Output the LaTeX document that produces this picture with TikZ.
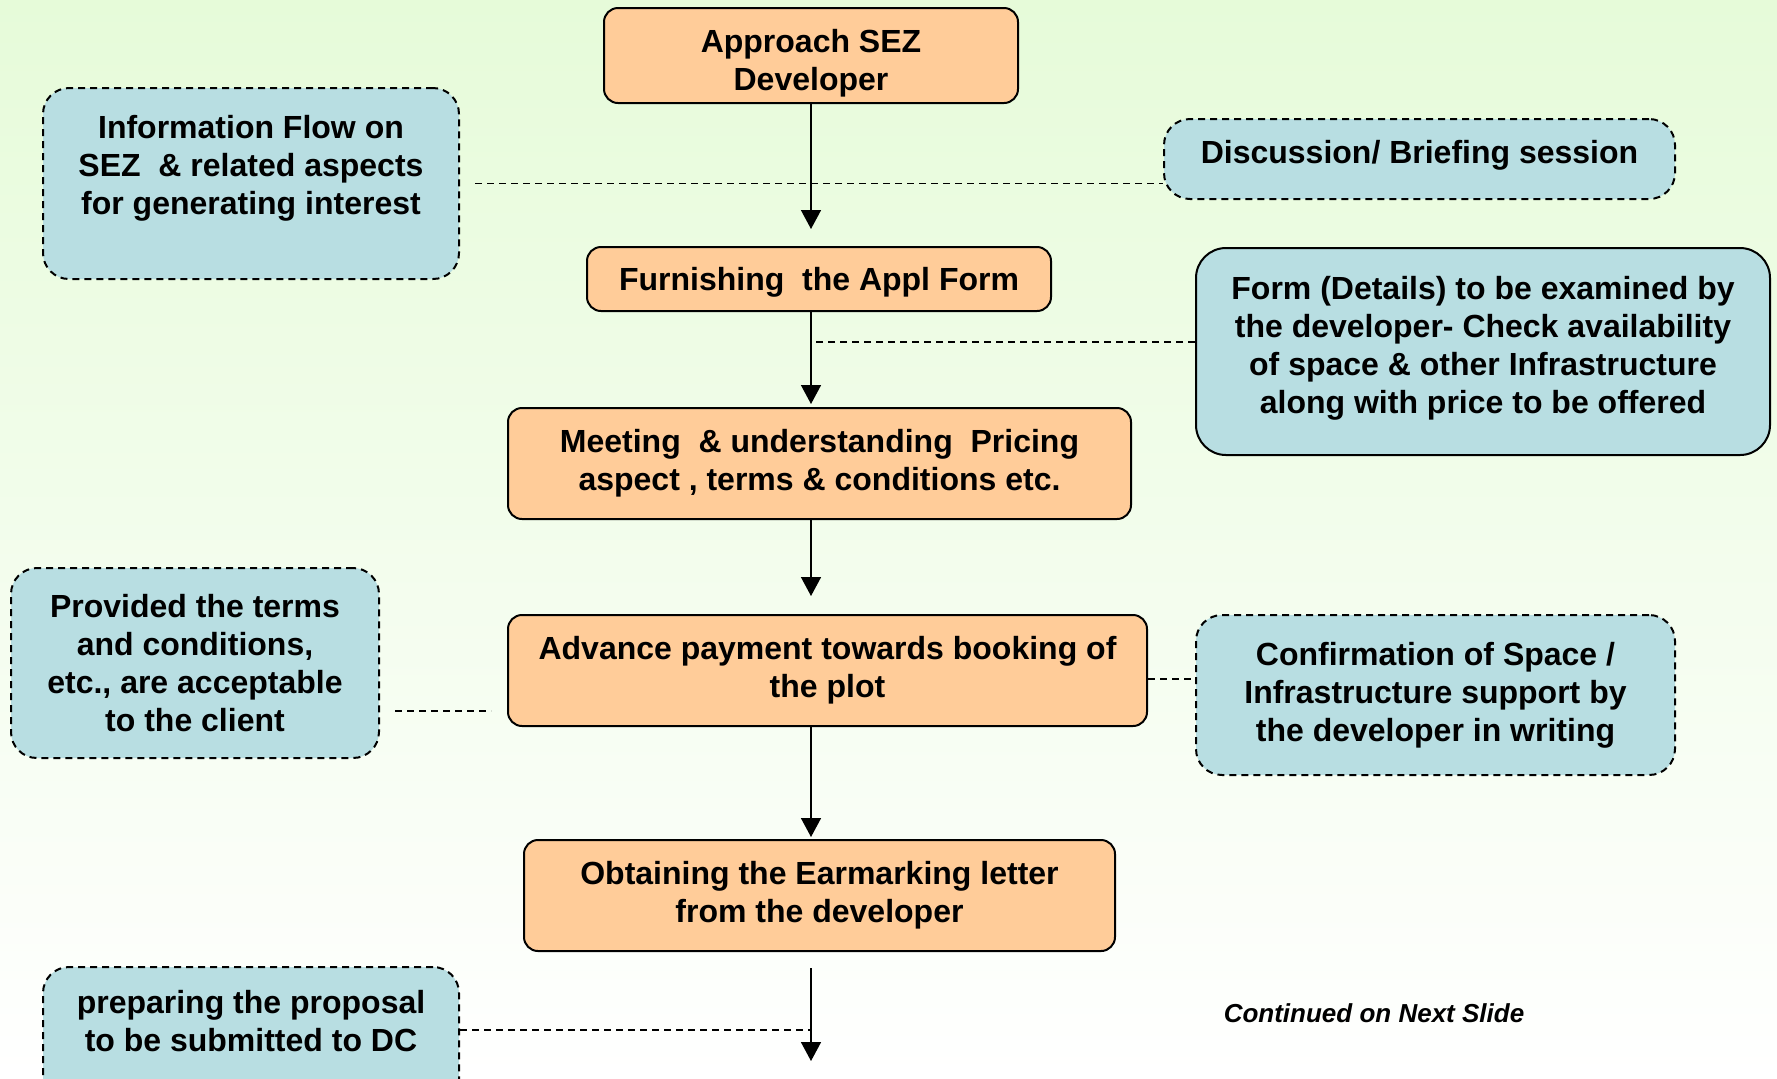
\documentclass[tikz,border=0pt]{standalone}
\usepackage{fontspec}
\setmainfont{Liberation Sans}
\usetikzlibrary{positioning}
\usetikzlibrary{arrows.meta}
\pgfdeclarelayer{bglayer}
\pgfdeclarelayer{edgelayer}
\pgfsetlayers{bglayer,edgelayer,main}
\definecolor{stepfill}{HTML}{FFCC99}
\definecolor{notefill}{HTML}{B8DEE2}
\definecolor{bgtop}{HTML}{E6FBD9}

\begin{document}
\begin{tikzpicture}[x=0.5pt, y=-0.5pt,
  font=\fontsize{16}{19}\selectfont\bfseries,
  stepbox/.style={draw, line width=1pt, fill=stepfill, rounded corners=7pt, align=center, inner sep=0pt},
  notebox/.style={draw, line width=1pt, fill=notefill, rounded corners=13pt, align=center, inner sep=0pt, dash pattern=on 3.5pt off 2.5pt},
  flow/.style={-{Triangle[width=10pt,length=9.5pt]}, line width=0.75pt},
  link/.style={line width=0.75pt, dash pattern=on 3.5pt off 2.5pt}]
  \useasboundingbox (0,0) rectangle (1777,1078);
  \begin{pgfonlayer}{bglayer}
    \shade [top color=bgtop, bottom color=white] (0,0) rectangle (1777,1078);
  \end{pgfonlayer}
  \node [stepbox, text height=38.5pt, minimum width=207pt, minimum height=47.5pt] (0) at (811,55.5) {Approach SEZ\\Developer};
  \node [stepbox, text height=15pt, minimum width=232pt, minimum height=32pt] (1) at (819,279) {Furnishing\ \ the Appl Form};
  \node [stepbox, minimum width=311.5pt, minimum height=55.5pt] (2) at (819.5,463.5) {Meeting\ \ \& understanding\ \ Pricing\\aspect , terms \& conditions etc.};
  \node [stepbox, minimum width=319.5pt, minimum height=55.5pt] (3) at (827.5,670.5) {Advance payment towards booking of\\the plot};
  \node [stepbox, minimum width=295.5pt, minimum height=55.5pt] (4) at (819.5,895.5) {Obtaining the Earmarking letter\\from the developer};
  \node [notebox, minimum width=208pt, minimum height=95.5pt] (5) at (251,183.5) {Information Flow on\\SEZ\ \ \& related aspects\\for generating interest\\~};
  \node [notebox, text depth=7pt, minimum width=255.5pt, minimum height=40pt] (6) at (1419.5,159) {Discussion/ Briefing session};
  \node [notebox, solid, text depth=6.5pt, rounded corners=15pt, minimum width=287pt, minimum height=103.5pt] (7) at (1483,351.5) {Form (Details) to be examined by\\the developer- Check availability\\of space \& other Infrastructure\\along with price to be offered};
  \node [notebox, minimum width=184pt, minimum height=95pt] (8) at (195,663) {Provided the terms\\and conditions,\\etc., are acceptable\\to the client};
  \node [notebox, minimum width=239.5pt, minimum height=80pt] (9) at (1435.5,695) {Confirmation of Space /\\Infrastructure support by\\the developer in writing};
  \node [notebox, minimum width=208pt, minimum height=73pt] (10) at (251,1040) {preparing the proposal\\to be submitted to DC\\~};
  \node [font=\fontsize{13}{16}\selectfont\bfseries\itshape] (11) at (1374,1013) {Continued on Next Slide};
  \coordinate (12) at (811,1061);
  \coordinate (13) at ([yshift=4.75pt]7.west);
  \coordinate (14) at ([yshift=-24pt]8.east);
  \coordinate (15) at ([yshift=-4.25pt]3.east);
  \coordinate (16) at ([yshift=5pt]10.east);
  \begin{pgfonlayer}{edgelayer}
    \draw [flow, shorten >=8.5pt] (0.south) -- (0.south |- 1.north);
    \draw [flow, shorten >=1.5pt] (0.south |- 1.south) -- (0.south |- 2.north);
    \draw [flow, shorten >=9pt] (0.south |- 2.south) -- (0.south |- 3.north);
    \draw [flow, shorten >=1pt] (0.south |- 3.south) -- (0.south |- 4.north);
    \draw [flow, shorten <=8pt] (0.south |- 4.south) -- (12);
    \draw [link, shorten <=7.5pt] (5.east) -- (5.east -| 6.west);
    \draw [link] (13) -- (13 -| 0.south);
    \draw [link, shorten <=7.5pt, shorten >=8pt] (14) -- (14 -| 3.west);
    \draw [link] (15) -- (15 -| 9.west);
    \draw [link] (16) -- (16 -| 0.south);
  \end{pgfonlayer}
\end{tikzpicture}
\end{document}
